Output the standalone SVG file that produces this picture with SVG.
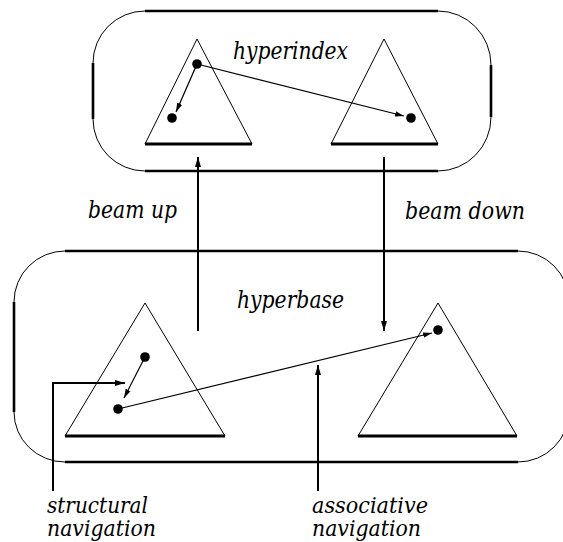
<svg xmlns="http://www.w3.org/2000/svg" width="563" height="542" viewBox="0 0 563 542">
<style>
.thin{fill:none;stroke:#000;stroke-width:1}
.thick{fill:none;stroke:#000;stroke-width:2.6}
.side{fill:none;stroke:#000;stroke-width:1}
.base{fill:none;stroke:#000;stroke-width:3}
.dot{fill:#000}
.conn{fill:none;stroke:#000;stroke-width:2}
.link{fill:none;stroke:#000;stroke-width:1.2}
</style>
<defs>
<marker id="ah" viewBox="0 0 10 6" refX="10" refY="3" markerWidth="10" markerHeight="6" markerUnits="userSpaceOnUse" orient="auto">
<path d="M0,0 L10,3 L0,6 z" fill="#000"/>
</marker>
<marker id="ahs" viewBox="0 0 10 6" refX="10" refY="3" markerWidth="9" markerHeight="6" markerUnits="userSpaceOnUse" orient="auto">
<path d="M0,0 L10,3 L0,6 z" fill="#000"/>
</marker>
</defs>
<g id="hyperindex">
<path class="thin" d="M145,11 A52,52 0 0 0 93,63 M93,119 A52,52 0 0 0 145,171 M438,11 A53,54 0 0 1 491,65 M491,117 A53,54 0 0 1 438,171"/>
<path class="thick" d="M145,11 H438 M145,171 H438 M93,63 V119 M491,65 V117"/>
<text font-family="'DejaVu Serif', 'Liberation Serif', serif" font-style="italic" font-size="24" x="233" y="59" textLength="115" lengthAdjust="spacingAndGlyphs">hyperindex</text>
</g>
<g id="hyperbase">
<path class="thin" d="M65,251 A51,51 0 0 0 14,302 M14,412 A51,50 0 0 0 65,462 M518,251 A51,51 0 0 1 569,302 M569,411 A51,51 0 0 1 518,462"/>
<path class="thick" d="M65,251 H518 M65,462 H518 M14,302 V412"/>
<text font-family="'DejaVu Serif', 'Liberation Serif', serif" font-style="italic" font-size="24" x="237" y="308" textLength="107" lengthAdjust="spacingAndGlyphs">hyperbase</text>
</g>
<g id="tri-index-left">
<path class="side" d="M145,144 L197,39 L252,144"/>
<path class="base" d="M145,144 H252"/>
<circle class="dot" cx="197" cy="64" r="4.8"/>
<circle class="dot" cx="172" cy="118" r="4.8"/>
</g>
<g id="tri-index-right">
<path class="side" d="M331,144 L384,39 L438,144"/>
<path class="base" d="M331,144 H438"/>
<circle class="dot" cx="411" cy="118" r="4.8"/>
</g>
<g id="tri-base-left">
<path class="side" d="M65,436 L145,303 L225,436"/>
<path class="base" d="M65,436 H225"/>
<circle class="dot" cx="145" cy="357" r="4.8"/>
<circle class="dot" cx="118" cy="409" r="4.8"/>
</g>
<g id="tri-base-right">
<path class="side" d="M358,436 L438,303 L517,436"/>
<path class="base" d="M358,436 H517"/>
<circle class="dot" cx="438" cy="330" r="4.8"/>
</g>
<g id="labels" font-family="'DejaVu Serif', 'Liberation Serif', serif" font-style="italic">
<text font-size="24" x="88" y="218" textLength="89" lengthAdjust="spacingAndGlyphs">beam up</text>
<text font-size="24" x="405" y="219" textLength="120" lengthAdjust="spacingAndGlyphs">beam down</text>
<text font-size="22" x="47" y="513" textLength="101" lengthAdjust="spacingAndGlyphs">structural</text>
<text font-size="22" x="47" y="536" textLength="109" lengthAdjust="spacingAndGlyphs">navigation</text>
<text font-size="22" x="312" y="513" textLength="116" lengthAdjust="spacingAndGlyphs">associative</text>
<text font-size="22" x="312" y="536" textLength="109" lengthAdjust="spacingAndGlyphs">navigation</text>
</g>
<g id="connectors">
<path class="link" d="M197,64 L176,112" marker-end="url(#ahs)"/>
<path class="link" d="M197,64 L404,116" marker-end="url(#ahs)"/>
<path class="link" d="M145,357 L124,398" marker-end="url(#ahs)"/>
<path class="link" d="M118,409 L432,333" marker-end="url(#ahs)"/>
<path class="conn" d="M198,331 V157" marker-end="url(#ah)"/>
<path class="conn" d="M384,157 V331" marker-end="url(#ah)"/>
<path class="conn" d="M53,491 V383 H125" marker-end="url(#ah)"/>
<path class="conn" d="M318,491 V365" marker-end="url(#ah)"/>
</g>
</svg>
